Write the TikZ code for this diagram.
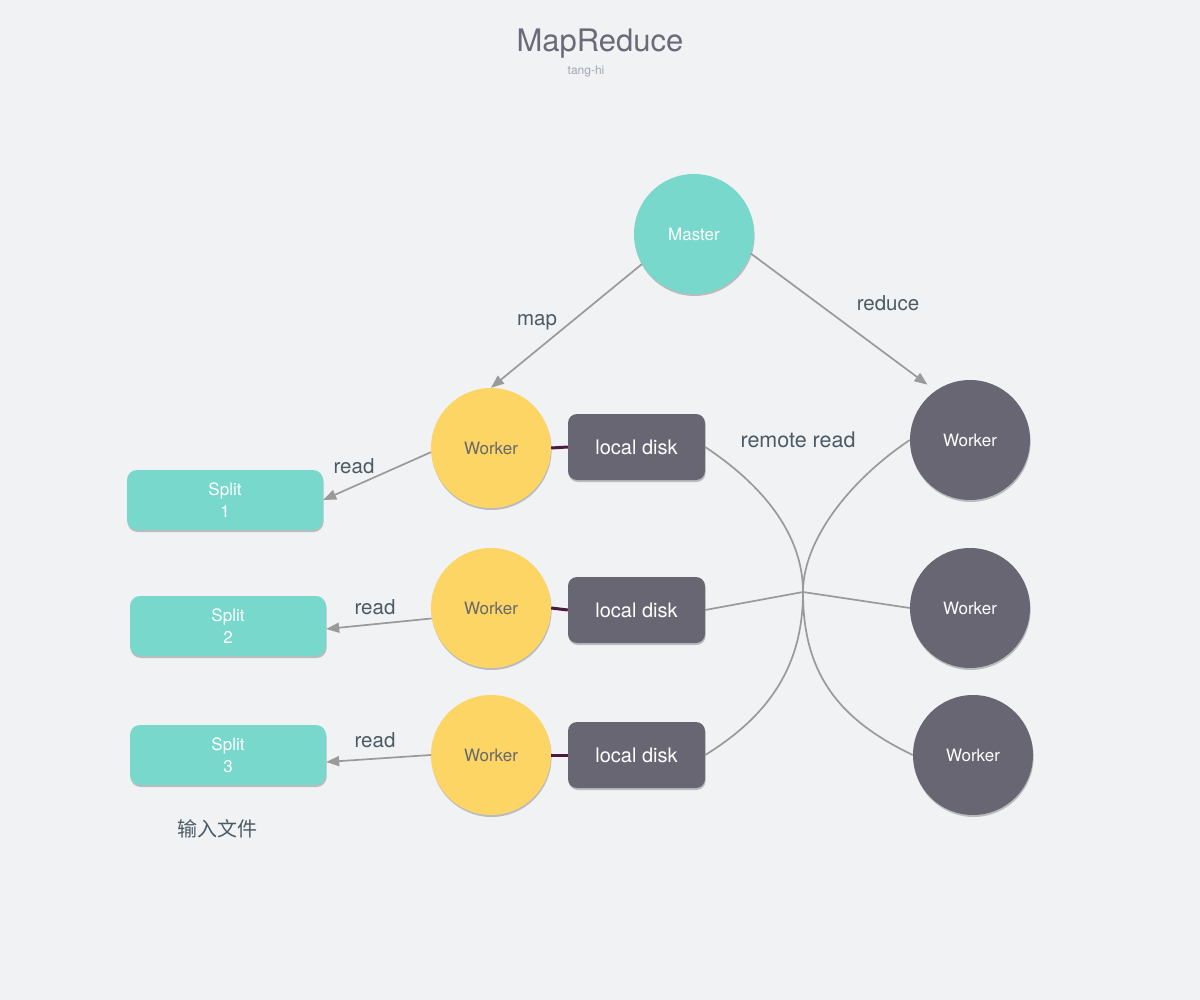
\documentclass[tikz,border=0pt]{standalone}
\usepackage{fontspec}
\setmainfont{TeX Gyre Heros}
\newfontfamily\cjk{Noto Sans CJK SC}
\usetikzlibrary{arrows.meta,shadows}
\definecolor{bgc}{HTML}{F0F2F4}
\definecolor{tealc}{HTML}{78D8CB}
\definecolor{yelc}{HTML}{FCD564}
\definecolor{darkc}{HTML}{686673}
\definecolor{arrc}{HTML}{9A9A9A}
\definecolor{labc}{HTML}{4B5B66}
\definecolor{titc}{HTML}{6A6A78}
\definecolor{subc}{HTML}{A0A8B0}
\definecolor{linkc}{HTML}{4A1A40}
\definecolor{ytext}{HTML}{66666F}
\tikzset{
  shad/.style={drop shadow={shadow xshift=0.6pt,shadow yshift=-2pt,opacity=0.22,fill=black}},
  circ/.style={circle,minimum size=120pt,inner sep=0pt,shad,font=\fontsize{17}{20}\selectfont},
  mastercirc/.style={circ,fill=tealc,text=white},
  yworker/.style={circ,fill=yelc,text=ytext},
  dworker/.style={circ,fill=darkc,text=white},
  diskbox/.style={rectangle,rounded corners=9pt,fill=darkc,text=white,minimum width=137pt,minimum height=66pt,inner sep=0pt,shad,font=\fontsize{20}{24}\selectfont},
  splitbox/.style={rectangle,rounded corners=10pt,fill=tealc,text=white,minimum width=196pt,minimum height=60pt,inner sep=0pt,shad,align=center,font=\fontsize{17}{22}\selectfont},
  arr/.style={draw=arrc,line width=1.7pt,-{Triangle[length=13pt,width=10pt]}},
  curv/.style={draw=arrc,line width=1.7pt},
  linkline/.style={draw=linkc,line width=3pt},
  lab/.style={text=labc,font=\fontsize{20.5}{24}\selectfont}
}
\begin{document}
\begin{tikzpicture}[x=1pt,y=-1pt]
\useasboundingbox (0,0) rectangle (1200,1000);
\fill[bgc] (0,0) rectangle (1200,1000);
% titles
\node[text=titc,font=\fontsize{31}{35}\selectfont] (title) at (600,44) {MapReduce};
\node[text=subc,font=\fontsize{12}{14}\selectfont] (sub) at (586,71) {tang-hi};
% nodes
\node[mastercirc] (master) at (694,234) {Master};
\node[yworker] (wy1) at (491,448) {Worker};
\node[yworker] (wy2) at (491,608) {Worker};
\node[yworker] (wy3) at (491,755) {Worker};
\node[dworker] (wd1) at (970,440) {Worker};
\node[dworker] (wd2) at (970,608) {Worker};
\node[dworker] (wd3) at (973,755) {Worker};
\node[diskbox] (d1) at (636.5,447) {local disk};
\node[diskbox] (d2) at (636.5,610) {local disk};
\node[diskbox] (d3) at (636.5,755) {local disk};
\node[splitbox] (s1) at (225,500) {Split\\1};
\node[splitbox] (s2) at (228,626) {Split\\2};
\node[splitbox] (s3) at (228,755) {Split\\3};
\coordinate (hub) at (803,592);
% connectors
\draw[arr] (master.210) -- (wy1.north);
\draw[arr,shorten >=10pt] (master.-19) -- (wd1.125);
\draw[arr] (wy1.184) -- (s1.east);
\draw[arr] (wy2.190) -- ([yshift=-3pt]s2.east);
\draw[arr] (wy3.west) -- ([yshift=-7pt]s3.east);
\draw[linkline] (wy1.east) -- (d1.west);
\draw[linkline] (wy2.east) -- (d2.west);
\draw[linkline] (wy3.east) -- (d3.west);
\draw[curv] (d1.east) .. controls (770,490) and (803,540) .. (hub) .. controls (803,670) and (835,718) .. (wd3.west);
\draw[curv] (wd1.west) .. controls (850,480) and (803,540) .. (hub) .. controls (803,665) and (770,715) .. (d3.east);
\draw[curv] (d2.east) -- (hub) -- (wd2.west);
% labels
\node[lab] (lmap) at (537,322) {map};
\node[lab] (lred) at (888,303) {reduce};
\node[lab] (lr1) at (354,466) {read};
\node[lab] (lr2) at (375,607) {read};
\node[lab] (lr3) at (375,740) {read};
\node[lab,font=\fontsize{21.5}{25}\selectfont] (lrr) at (798,440) {remote read};
\node[text=labc,font=\cjk\fontsize{20}{24}\selectfont] (lin) at (217,829) {输入文件};
\end{tikzpicture}
\end{document}
